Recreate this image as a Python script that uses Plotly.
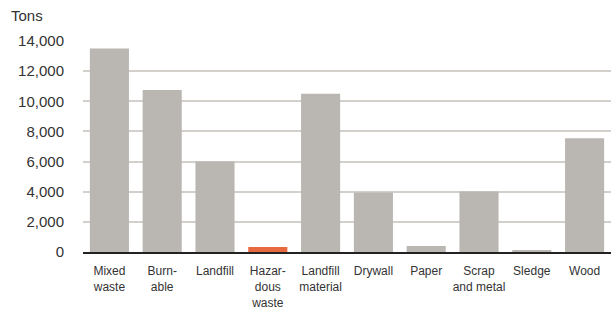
import plotly.graph_objects as go

categories = ["Mixed<br>waste", "Burn-<br>able", "Landfill", "Hazar-<br>dous<br>waste",
              "Landfill<br>material", "Drywall", "Paper", "Scrap<br>and metal", "Sledge", "Wood"]
tons = [13500, 10750, 6000, 330, 10500, 3950, 400, 4020, 100, 7550]
highlight = [False, False, False, True, False, False, False, False, False, False]
y_ticks = [0, 2000, 4000, 6000, 8000, 10000, 12000, 14000]
y_tick_labels = ["0", "2,000", "4,000", "6,000", "8,000", "10,000", "12,000", "14,000"]

colors = ["#e8693f" if h else "#bab6b2" for h in highlight]

fig = go.Figure(go.Bar(x=categories, y=tons, marker=dict(color=colors, line=dict(width=0)),
                       width=0.74))

fig.update_layout(
    width=611, height=313,
    margin=dict(l=83, r=0, t=41, b=61),
    paper_bgcolor="white", plot_bgcolor="white",
    showlegend=False,
    font=dict(family="Liberation Sans, Arial, sans-serif", color="#333333"),
    annotations=[dict(text="Tons", xref="paper", yref="paper", x=-0.14, y=1.0,
                      xanchor="left", yanchor="bottom", yshift=15, showarrow=False,
                      font=dict(size=15, color="#333333"))],
)
fig.update_yaxes(range=[0, 14000], tickvals=y_ticks, ticktext=y_tick_labels,
                 showgrid=True, gridcolor="#d3cfcb", gridwidth=1.5,
                 zeroline=False, tickfont=dict(size=15, color="#333333"),
                 ticks="", ticklabelstandoff=18, automargin=False, fixedrange=True)
fig.update_xaxes(showline=True, linecolor="#222222", linewidth=2,
                 tickfont=dict(size=12, family="Liberation Sans Narrow, Arial Narrow, sans-serif",
                               color="#333333"),
                 ticks="", ticklabelstandoff=7, automargin=False)

fig.write_html("out.html", config={"displayModeBar": False},
               post_script="document.body.style.margin='0';document.body.style.overflow='hidden';")
